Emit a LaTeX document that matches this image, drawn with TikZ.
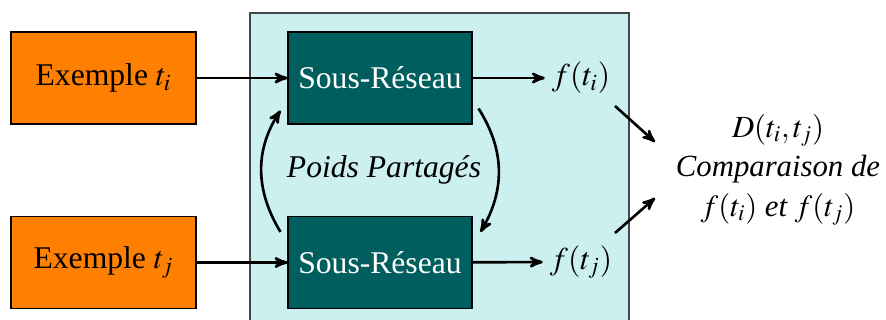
\documentclass[tikz,border=0pt]{standalone}
\usepackage{mathptmx}
\usepackage[no-math]{fontspec}
\setmainfont{Liberation Serif}
\usepackage{tikz}
\usetikzlibrary{arrows}
\definecolor{ex_orange}{RGB}{255,128,0}
\definecolor{net_teal}{RGB}{0,94,94}
\definecolor{bg_cyan}{RGB}{204,239,240}
\definecolor{edge_gray}{RGB}{70,70,70}

\begin{document}
\begin{tikzpicture}[->,line width=1.5pt,>=stealth',x=0.02cm,y=-0.02cm,
    font=\fontsize{18}{21}\selectfont]
    \tikzstyle{ex}=[draw=black, line width=0.6pt, fill=ex_orange, text=black, minimum width=3.7cm, minimum height=1.84cm]
    \tikzstyle{net}=[draw=black, line width=0.6pt, fill=net_teal, text=white, minimum width=3.68cm, minimum height=1.84cm]
    \tikzstyle{feat}=[text=black]

    \useasboundingbox (0,0) rectangle (886,320);
    \fill[bg_cyan, draw=edge_gray, line width=0.8pt] (250,13) rectangle (629,340);

    \node[ex]  (ei) at (103.5,78)  {Exemple $t_i$};
    \node[ex]  (ej) at (103.5,262.5) {Exemple $t_j$};
    \node[net] (si) at (380,78)    {Sous-Réseau};
    \node[net] (sj) at (380,262.5) {Sous-Réseau};
    \node[feat] (fi) at (581,78)   {$f(t_i)$};
    \node[feat] (fj) at (581,262)  {$f(t_j)$};
    \node      (pp) at (384,170)   {\itshape Poids Partagés};
    \node[feat,align=center,font=\fontsize{17.5}{22.5}\selectfont] (cmp) at (778,170)
        {$D(t_i,t_j)$\\ \itshape Comparaison de\\ $f(t_i)$ \itshape et $f(t_j)$};

    \coordinate (ai) at (615,106);  \coordinate (bi) at (655,142);
    \coordinate (aj) at (615,233);  \coordinate (bj) at (655,198);

    \path[line width=1.5pt]
     (ei) edge[] (si)
     (ej) edge[] (sj)
     (si) edge[] (fi)
     (sj) edge[] (fj)
     (ai) edge[] (bi)
     (aj) edge[] (bj)
     ;
    \draw ([shift={(-7,16)}]sj.north west) .. controls (255,190) and (255,150) .. ([shift={(-7,-14)}]si.south west);
    \draw ([shift={(6,-16)}]si.south east) .. controls (505,150) and (505,190) .. ([shift={(8,16)}]sj.north east);
  \end{tikzpicture}
\end{document}
